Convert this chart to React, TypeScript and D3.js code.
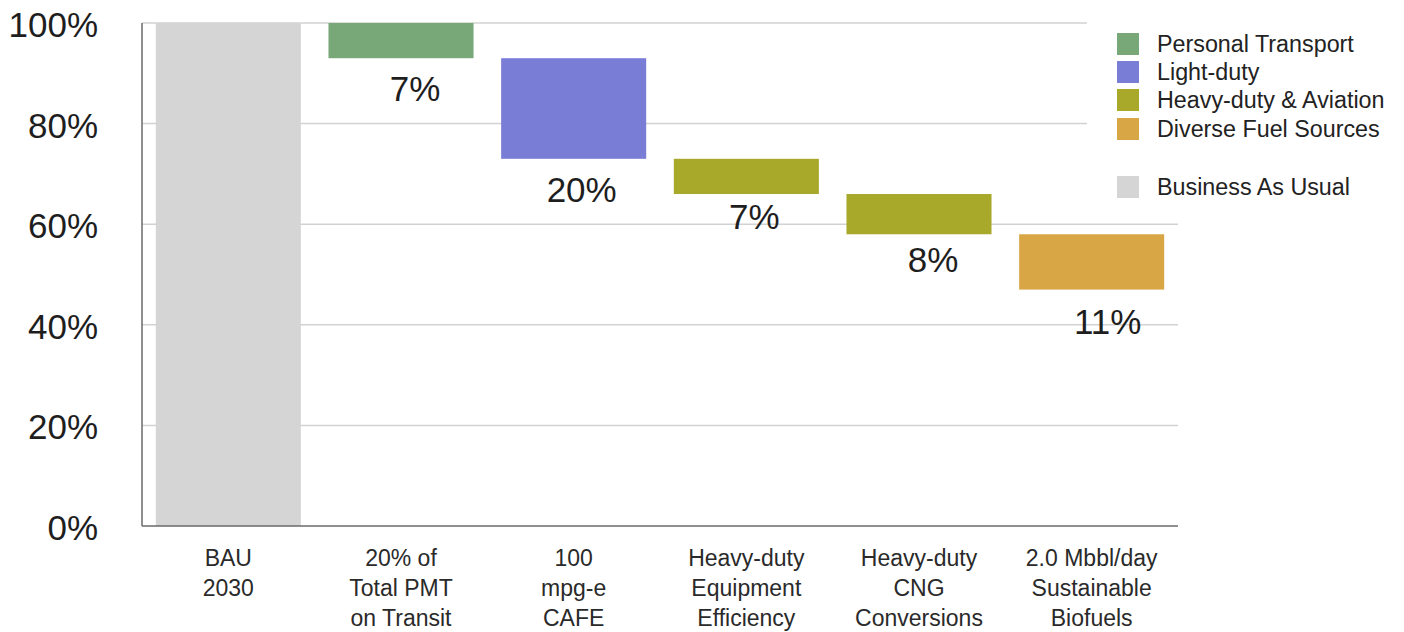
import React from "react";
import * as d3 from "d3";

// Waterfall of transport oil-use reductions from the 2030 business-as-usual level
const categoryLines: string[][] = [
  ["BAU", "2030"],
  ["20% of", "Total PMT", "on Transit"],
  ["100", "mpg-e", "CAFE"],
  ["Heavy-duty", "Equipment", "Efficiency"],
  ["Heavy-duty", "CNG", "Conversions"],
  ["2.0 Mbbl/day", "Sustainable", "Biofuels"],
];
const baselineValue = 100;
const reductions = [7, 20, 7, 8, 11];
const reductionGroups = [
  "Personal Transport",
  "Light-duty",
  "Heavy-duty & Aviation",
  "Heavy-duty & Aviation",
  "Diverse Fuel Sources",
];
const legendItems = [
  "Personal Transport",
  "Light-duty",
  "Heavy-duty & Aviation",
  "Diverse Fuel Sources",
  "Business As Usual",
];
const groupColors: Record<string, string> = {
  "Personal Transport": "#78a878",
  "Light-duty": "#7a7dd6",
  "Heavy-duty & Aviation": "#a8a82b",
  "Diverse Fuel Sources": "#d8a645",
  "Business As Usual": "#d5d5d5",
};
const yTicks = [0, 20, 40, 60, 80, 100];

const W = 1404;
const H = 632;
const FONT = "'Liberation Sans', Arial, Helvetica, sans-serif";

export default function App() {
  const left = 142;
  const right = 1178;
  const top = 23;
  const bottom = 526;

  const x = d3
    .scaleBand<number>()
    .domain(d3.range(categoryLines.length))
    .range([left, right])
    .paddingInner(0.16)
    .paddingOuter(0.08);
  const y = d3.scaleLinear().domain([0, 100]).range([bottom, top]);

  // running totals for the floating bars
  const steps = reductions.map((r, i) => {
    const start = baselineValue - d3.sum(reductions.slice(0, i));
    return { start, end: start - r, value: r, group: reductionGroups[i] };
  });

  // hand-tuned label placement below each floating bar
  const labelDx = [14, 8, 8, 14, 16];
  const labelDy = [43, 43, 35, 38, 44];

  // legend block
  const legX = 1117;
  const legRowTops = [33, 61, 89, 118, 176];
  const legBottom = 205;

  return (
    <svg
      width={W}
      height={H}
      style={{ position: "absolute", left: 0, top: 0, background: "#fff" }}
      fontFamily={FONT}
    >
      {/* gridlines; the upper ones stop short of the legend */}
      {yTicks.slice(1).map((t) => {
        const yy = y(t);
        const x2 = yy < legBottom ? 1087 : right;
        return (
          <line
            key={"g" + t}
            x1={left}
            x2={x2}
            y1={yy}
            y2={yy}
            stroke="#d2d2d2"
            strokeWidth={1.5}
          />
        );
      })}

      {/* BAU bar */}
      <rect
        x={x(0)}
        y={y(baselineValue)}
        width={x.bandwidth()}
        height={y(0) - y(baselineValue)}
        fill={groupColors["Business As Usual"]}
      />

      {/* reduction bars */}
      {steps.map((s, i) => (
        <rect
          key={"b" + i}
          x={x(i + 1)}
          y={y(s.start)}
          width={x.bandwidth()}
          height={y(s.end) - y(s.start)}
          fill={groupColors[s.group]}
        />
      ))}

      {/* value labels */}
      {steps.map((s, i) => (
        <text
          key={"v" + i}
          x={(x(i + 1) as number) + x.bandwidth() / 2 + labelDx[i]}
          y={y(s.end) + labelDy[i]}
          textAnchor="middle"
          fontSize={35}
          fill="#1e1e1e"
        >
          {s.value}%
        </text>
      ))}

      {/* axes */}
      <line x1={left} x2={left} y1={top} y2={bottom} stroke="#6a6a6a" strokeWidth={1.5} />
      <line x1={left} x2={right} y1={bottom} y2={bottom} stroke="#6a6a6a" strokeWidth={1.5} />

      {/* y tick labels */}
      {yTicks.map((t) => (
        <text
          key={"t" + t}
          x={98}
          y={y(t) + 14}
          textAnchor="end"
          fontSize={35}
          fill="#1e1e1e"
        >
          {t}%
        </text>
      ))}

      {/* category labels */}
      {categoryLines.map((lines, i) => (
        <text
          key={"c" + i}
          textAnchor="middle"
          fontSize={23}
          fill="#2a2a2a"
        >
          {lines.map((ln, j) => (
            <tspan
              key={j}
              x={(x(i) as number) + x.bandwidth() / 2}
              y={566 + j * 30}
            >
              {ln}
            </tspan>
          ))}
        </text>
      ))}

      {/* legend */}
      {legendItems.map((name, i) => (
        <g key={"l" + i}>
          <rect x={legX} y={legRowTops[i]} width={22} height={22} fill={groupColors[name]} />
          <text x={1157} y={legRowTops[i] + 19} fontSize={23.3} fill="#222">
            {name}
          </text>
        </g>
      ))}
    </svg>
  );
}
